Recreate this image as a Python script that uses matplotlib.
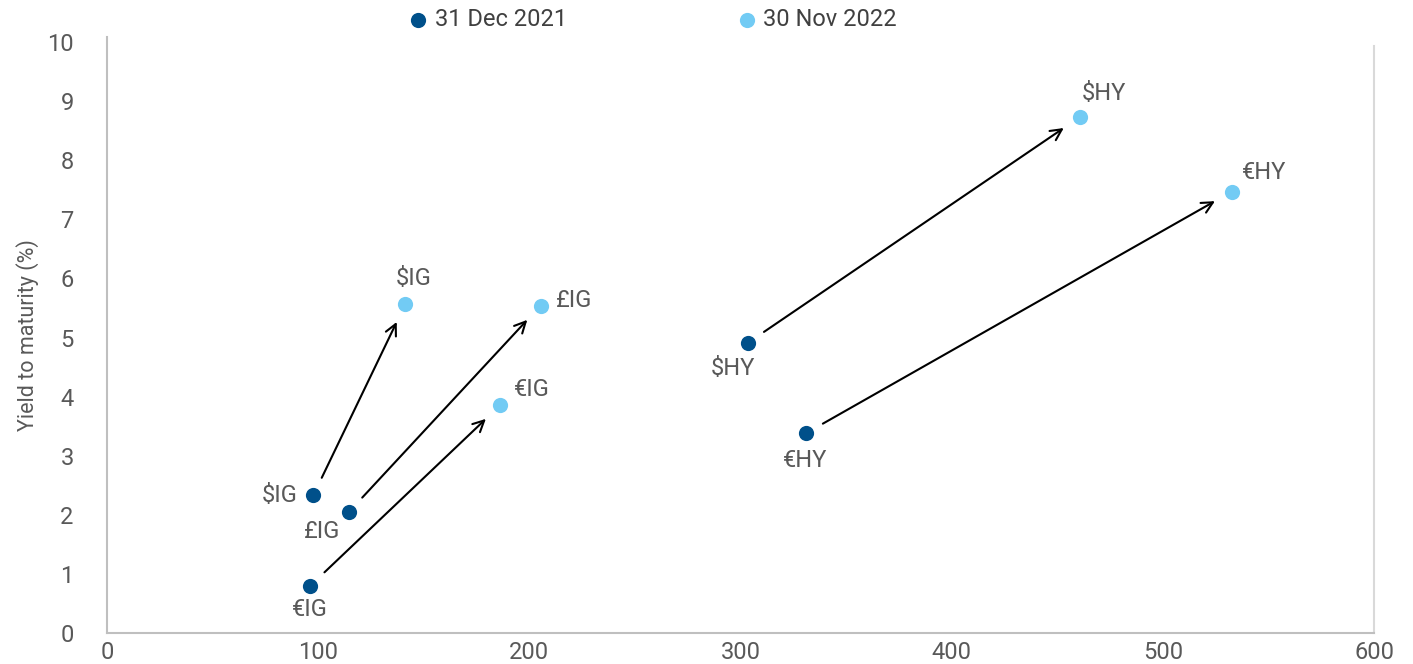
import matplotlib.pyplot as plt

plt.rcParams['font.family'] = ['Roboto', 'DejaVu Sans']

labels = ['$IG', '£IG', '€IG', '$HY', '€HY']
# spread (x) and yield to maturity (y)
spread_2021 = [97.7, 114.6, 96.3, 303.5, 331.0]
ytm_2021 = [2.33, 2.05, 0.80, 4.91, 3.38]
spread_2022 = [141.2, 205.3, 186.1, 460.7, 532.7]
ytm_2022 = [5.56, 5.54, 3.85, 8.73, 7.47]

dark = '#00508a'
light = '#72cbf4'
grey = '#595959'

fig = plt.figure(figsize=(14.13, 6.64), dpi=100)
ax = fig.add_axes([107 / 1413, 1 - 633 / 664, (1374 - 107) / 1413, (633 - 37) / 664])

ax.scatter(spread_2021, ytm_2021, s=120, color=dark, zorder=3, label='31 Dec 2021', linewidths=0)
ax.scatter(spread_2022, ytm_2022, s=120, color=light, zorder=3, label='30 Nov 2022', linewidths=0)

for x0, y0, x1, y1 in zip(spread_2021, ytm_2021, spread_2022, ytm_2022):
    ax.annotate('', xy=(x1, y1), xytext=(x0, y0),
                arrowprops=dict(arrowstyle='->', color='black', lw=1.5,
                                shrinkA=14, shrinkB=14, mutation_scale=20))

# label offsets in pixels
off_2021 = [(-34, 0), (-27, -20), (0, -24), (-15, -26), (-1, -27)]
off_2022 = [(9, 26), (34, 5), (32, 16), (24, 24), (32, 19)]

for lab, x, y, o in zip(labels, spread_2021, ytm_2021, off_2021):
    ax.annotate(lab, (x, y), xytext=o, textcoords='offset pixels',
                ha='center', va='center', fontsize=17, color=grey)
for lab, x, y, o in zip(labels, spread_2022, ytm_2022, off_2022):
    ax.annotate(lab, (x, y), xytext=o, textcoords='offset pixels',
                ha='center', va='center', fontsize=17, color=grey)

ax.set_xlim(0, 600)
ax.set_ylim(0, 10.085)
ax.set_xticks(range(0, 601, 100))
ax.set_yticks(range(0, 11))
ax.tick_params(length=0, labelsize=17, labelcolor=grey)
ax.tick_params(axis='y', pad=24)
ax.tick_params(axis='x', pad=6)

ax.spines['top'].set_visible(False)
ax.spines['left'].set_color('#bfbfbf')
ax.spines['bottom'].set_color('#bfbfbf')
ax.spines['right'].set_color('#d9d9d9')
ax.spines['right'].set_bounds(0, 9.93)
for s in ax.spines.values():
    s.set_linewidth(1.5)

ax.set_ylabel('Yield to maturity (%)', fontsize=15.5, color=grey, labelpad=6)

fig.legend(loc='center', bbox_to_anchor=(654 / 1413, 1 - 20 / 664), ncol=2, frameon=False,
           fontsize=17, handlelength=0.6, handletextpad=0.4, columnspacing=7.3,
           markerscale=1.0, labelcolor='#404040', borderpad=0)

fig.savefig('out.png', dpi=100)
